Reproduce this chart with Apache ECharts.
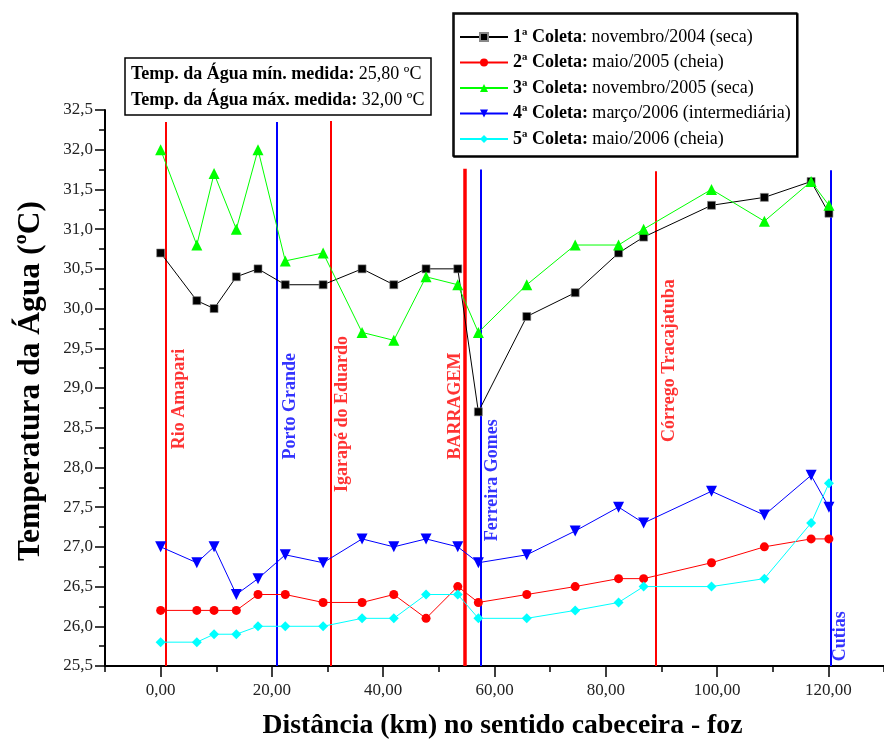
<!DOCTYPE html>
<html>
<head>
<meta charset="utf-8">
<script src="https://cdn.jsdelivr.net/npm/echarts@6/dist/echarts.min.js"></script>
<style>
  html, body { margin: 0; padding: 0; background: #fff; }
  #chart { width: 884px; height: 745px; }
</style>
</head>
<body>
<div id="chart"></div>
<script>
// Distance of each sampling station from the headwaters (km)
const distanceKm = [0, 6.5, 9.6, 13.6, 17.5, 22.4, 29.2, 36.2, 41.9, 47.7, 53.4, 57.1, 65.8, 74.5, 82.3, 86.8, 99.0, 108.5, 116.9, 120.1];

// Water temperature (ºC) per campaign
const coleta1 = [30.7, 30.1, 30.0, 30.4, 30.5, 30.3, 30.3, 30.5, 30.3, 30.5, 30.5, 28.7, 29.9, 30.2, 30.7, 30.9, 31.3, 31.4, 31.6, 31.2];
const coleta2 = [26.2, 26.2, 26.2, 26.2, 26.4, 26.4, 26.3, 26.3, 26.4, 26.1, 26.5, 26.3, 26.4, 26.5, 26.6, 26.6, 26.8, 27.0, 27.1, 27.1];
const coleta3 = [32.0, 30.8, 31.7, 31.0, 32.0, 30.6, 30.7, 29.7, 29.6, 30.4, 30.3, 29.7, 30.3, 30.8, 30.8, 31.0, 31.5, 31.1, 31.6, 31.3];
const coleta4 = [27.0, 26.8, 27.0, 26.4, 26.6, 26.9, 26.8, 27.1, 27.0, 27.1, 27.0, 26.8, 26.9, 27.2, 27.5, 27.3, 27.7, 27.4, 27.9, 27.5];
const coleta5 = [25.8, 25.8, 25.9, 25.9, 26.0, 26.0, 26.0, 26.1, 26.1, 26.4, 26.4, 26.1, 26.1, 26.2, 26.3, 26.5, 26.5, 26.6, 27.3, 27.8];

// Campaign names and periods
const coletaNames = ['1ª Coleta', '2ª Coleta', '3ª Coleta', '4ª Coleta', '5ª Coleta'];
const coletaPeriods = ['novembro/2004 (seca)', 'maio/2005 (cheia)', 'novembro/2005 (seca)', 'março/2006 (intermediária)', 'maio/2006 (cheia)'];

// Landmarks along the river
const landmarkNames = ['Rio Amapari', 'Porto Grande', 'Igarapé do Eduardo', 'BARRAGEM', 'Ferreira Gomes', 'Córrego Tracajatuba', 'Cutias'];
const landmarkKm = [1.0, 20.8, 30.5, 54.6, 57.6, 88.9, 120.5];

// Axis ticks
const xMajorTicks = [0, 20, 40, 60, 80, 100, 120];
const xMinorTicks = [-10, 10, 30, 50, 70, 90, 110, 130];

const FONT = "'Liberation Serif', 'Times New Roman', serif";
const Y_MIN = 25.5, Y_MAX = 32.5;

// Styling of the landmark lines and where their names sit (km, temperature at text base)
const landmarkStyle = [
  { color: '#ff0000', width: 2,   top: 32.35, labelKm: 3.3,   labelBase: 28.23 },
  { color: '#0000ff', width: 2,   top: 32.35, labelKm: 23.3,  labelBase: 28.10 },
  { color: '#ff0000', width: 2,   top: 32.36, labelKm: 32.6,  labelBase: 27.69 },
  { color: '#ff0000', width: 3.5, top: 31.76, labelKm: 52.9,  labelBase: 28.10 },
  { color: '#0000ff', width: 2,   top: 31.75, labelKm: 59.6,  labelBase: 27.07 },
  { color: '#ff0000', width: 2,   top: 31.73, labelKm: 91.5,  labelBase: 28.32 },
  { color: '#0000ff', width: 2,   top: 31.74, labelKm: 122.2, labelBase: 25.56 }
];

const seriesStyle = [
  { color: '#000000', symbol: 'rect', size: 8 },
  { color: '#ff0000', symbol: 'circle', size: 9 },
  { color: '#00ff00', symbol: 'triangle', size: 11 },
  { color: '#0000ff', symbol: 'path://M0,0 L10,0 L5,9 Z', size: 11 },
  { color: '#00ffff', symbol: 'diamond', size: 10 }
];

const allValues = [coleta1, coleta2, coleta3, coleta4, coleta5];
const flat = allValues.flat();
const fmt2 = v => v.toFixed(2).replace('.', ',');
const tMin = Math.min(...flat), tMax = Math.max(...flat);

const dataSeries = allValues.map((vals, i) => ({
  name: coletaNames[i],
  type: 'line',
  data: vals.map((v, j) => [distanceKm[j], v]),
  symbol: seriesStyle[i].symbol,
  symbolSize: seriesStyle[i].size,
  lineStyle: { color: seriesStyle[i].color, width: 1 },
  itemStyle: { color: seriesStyle[i].color, borderColor: i === 0 ? '#888' : seriesStyle[i].color, borderWidth: i === 0 ? 0.6 : 0 },
  z: 5 + i
}));

const landmarkSeries = {
  name: 'landmarks',
  type: 'scatter',
  silent: true,
  symbolSize: 0,
  z: 3,
  data: landmarkNames.map((n, i) => ({
    name: n,
    value: [landmarkStyle[i].labelKm, landmarkStyle[i].labelBase],
    label: { color: landmarkStyle[i].color }
  })),
  label: {
    show: true,
    formatter: '{b}',
    rotate: 90,
    position: [0, 0],
    align: 'left',
    verticalAlign: 'middle',
    fontFamily: FONT,
    fontWeight: 'bold',
    fontSize: 18
  },
  markLine: {
    silent: true,
    symbol: ['none', 'none'],
    label: { show: false },
    animation: false,
    data: landmarkKm.map((k, i) => [
      { coord: [k, Y_MIN], lineStyle: { color: landmarkStyle[i].color, width: landmarkStyle[i].width, type: 'solid' } },
      { coord: [k, landmarkStyle[i].top] }
    ])
  }
};

const chart = echarts.init(document.getElementById('chart'), null, { renderer: 'canvas' });

chart.setOption({
  animation: false,
  backgroundColor: '#fff',
  textStyle: { fontFamily: FONT },
  title: {
    left: 125,
    top: 58,
    padding: [3, 7, 2, 6],
    borderColor: '#000',
    borderWidth: 1.5,
    text: '{b|Temp. da Água mín. medida:} {r|' + fmt2(tMin) + ' ºC}\n{b|Temp. da Água máx. medida:} {r|' + fmt2(tMax) + ' ºC}',
    textStyle: {
      fontFamily: FONT,
      fontSize: 18,
      lineHeight: 26,
      color: '#000',
      rich: {
        b: { fontFamily: FONT, fontSize: 18, fontWeight: 'bold', color: '#000', lineHeight: 26 },
        r: { fontFamily: FONT, fontSize: 18, fontWeight: 'normal', color: '#000', lineHeight: 26 }
      }
    }
  },
  legend: {
    orient: 'vertical',
    left: 453,
    top: 13,
    padding: [15, 6, 8, 6],
    itemWidth: 48,
    itemHeight: 10,
    itemGap: 7.5,
    borderColor: '#000',
    borderWidth: 1.5,
    backgroundColor: '#fff',
    shadowColor: '#000',
    shadowBlur: 0,
    shadowOffsetX: 1,
    shadowOffsetY: 1,
    data: coletaNames,
    formatter: name => {
      const i = coletaNames.indexOf(name);
      return i === 0
        ? '{b|' + name + '}{r|: ' + coletaPeriods[i] + '}'
        : '{b|' + name + ':}{r| ' + coletaPeriods[i] + '}';
    },
    textStyle: {
      fontFamily: FONT,
      fontSize: 18,
      lineHeight: 18,
      color: '#000',
      padding: [0, 0, 0, 0],
      rich: {
        b: { fontFamily: FONT, fontSize: 18, fontWeight: 'bold', color: '#000', lineHeight: 18 },
        r: { fontFamily: FONT, fontSize: 18, color: '#000', lineHeight: 18 }
      }
    }
  },
  grid: { left: 105, right: -6, top: 110, bottom: 78, containLabel: false },
  xAxis: [
    {
      type: 'value',
      position: 'bottom',
      min: -10,
      max: 130,
      name: 'Distância (km) no sentido cabeceira - foz',
      nameLocation: 'middle',
      nameGap: 46,
      nameTextStyle: { fontFamily: FONT, fontSize: 27.7, fontWeight: 'bold', color: '#000', padding: [0, 0, 0, 16] },
      axisLine: { show: true, onZero: false, lineStyle: { color: '#000', width: 2 } },
      axisTick: { show: true, customValues: xMajorTicks, length: 11, lineStyle: { color: '#000', width: 1.5 } },
      axisLabel: {
        customValues: xMajorTicks,
        formatter: v => fmt2(v),
        fontFamily: FONT, fontSize: 17, color: '#222', margin: 16
      },
      splitLine: { show: false }
    },
    {
      type: 'value',
      position: 'bottom',
      min: -10,
      max: 130,
      axisLine: { show: false, onZero: false },
      axisTick: { show: true, customValues: xMinorTicks, length: 6, lineStyle: { color: '#000', width: 1.5 } },
      axisLabel: { show: false },
      splitLine: { show: false }
    }
  ],
  yAxis: {
    type: 'value',
    position: 'left',
    min: Y_MIN,
    max: Y_MAX,
    interval: 0.5,
    name: 'Temperatura da Água (ºC)',
    nameLocation: 'middle',
    nameGap: 58,
    nameTextStyle: { fontFamily: FONT, fontSize: 31.5, fontWeight: 'bold', color: '#000', padding: [0, 0, 0, 14] },
    axisLine: { show: true, onZero: false, lineStyle: { color: '#000', width: 2 } },
    axisTick: { show: true, length: 10, lineStyle: { color: '#000', width: 1.5 } },
    minorTick: { show: true, splitNumber: 2, length: 6, lineStyle: { color: '#000', width: 1.5 } },
    axisLabel: { formatter: v => v.toFixed(1).replace('.', ','), fontFamily: FONT, fontSize: 17, color: '#222', margin: 12 },
    splitLine: { show: false },
    minorSplitLine: { show: false }
  },
  series: [landmarkSeries, ...dataSeries]
});
</script>
</body>
</html>
